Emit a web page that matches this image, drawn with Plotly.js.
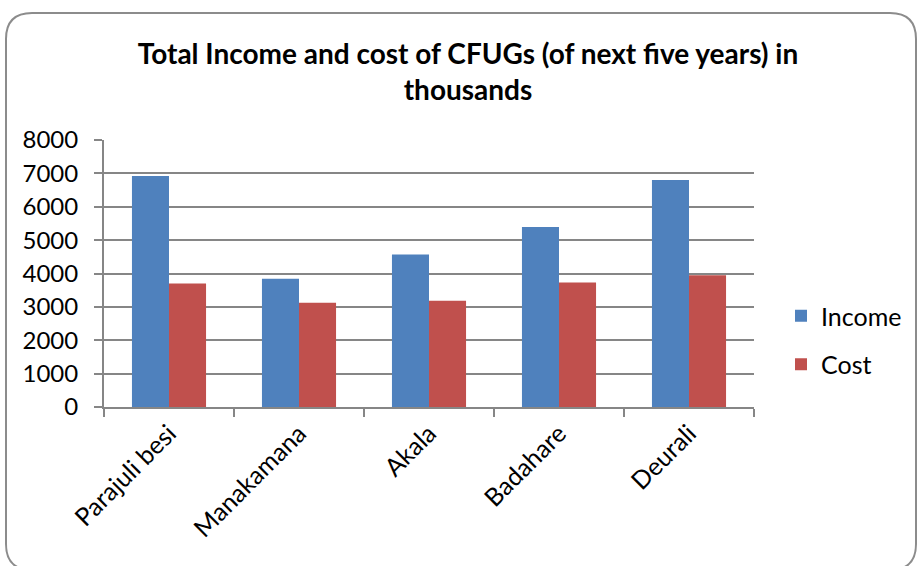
<!DOCTYPE html>
<html>
<head>
<meta charset="utf-8">
<script src="https://cdn.plot.ly/plotly-3.0.1.min.js"></script>
<style>
html,body{margin:0;padding:0;background:#fff;}
#chart{width:918px;height:566px;}
</style>
</head>
<body>
<div id="chart"></div>
<script>
var categories = ["Parajuli besi", "Manakamana", "Akala", "Badahare", "Deurali"];
var income = [6920, 3840, 4570, 5390, 6800];
var cost = [3700, 3120, 3180, 3730, 3950];
var yTicks = [0, 1000, 2000, 3000, 4000, 5000, 6000, 7000, 8000];

var W = 918, H = 566;
var mL = 104, mR = 164, mT = 140, mB = 159;
var pw = W - mL - mR, ph = H - mT - mB;
function px(x){ return (x - mL) / pw; }
function py(y){ return (H - mB - y) / ph; }

// rounded border path in paper coords
var x0 = 6, y0 = 13, x1 = 916, y1 = 570, r = 26;
var border = "M " + px(x0 + r) + "," + py(y0) +
  " L " + px(x1 - r) + "," + py(y0) +
  " Q " + px(x1) + "," + py(y0) + " " + px(x1) + "," + py(y0 + r) +
  " L " + px(x1) + "," + py(y1 - r) +
  " Q " + px(x1) + "," + py(y1) + " " + px(x1 - r) + "," + py(y1) +
  " L " + px(x0 + r) + "," + py(y1) +
  " Q " + px(x0) + "," + py(y1) + " " + px(x0) + "," + py(y1 - r) +
  " L " + px(x0) + "," + py(y0 + r) +
  " Q " + px(x0) + "," + py(y0) + " " + px(x0 + r) + "," + py(y0) + " Z";

var font = "Lato, 'Open Sans', sans-serif";

var data = [
  {type: "bar", name: "Income", x: categories, y: income, legendgroup: "a",
   marker: {color: "#4F81BD"}},
  {type: "bar", name: "Cost", x: categories, y: cost, legendgroup: "b",
   marker: {color: "#C0504D"}}
];

var layout = {
  width: W, height: H,
  margin: {l: mL, r: mR, t: mT, b: mB, pad: 0, autoexpand: false},
  paper_bgcolor: "rgba(0,0,0,0)",
  plot_bgcolor: "rgba(0,0,0,0)",
  font: {family: font, color: "#000"},
  title: {
    text: "<b>Total Income and cost of CFUGs (of next five years) in<br>thousands</b>",
    font: {family: font, size: 28, color: "#000"},
    x: 468 / W, xref: "container", xanchor: "center",
    y: 1 - 64 / H, yref: "container", yanchor: "top"
  },
  barmode: "group",
  bargap: 0.43,
  bargroupgap: 0,
  xaxis: {
    type: "category",
    automargin: false,
    tickangle: -45,
    tickfont: {family: font, size: 25, color: "#000"},
    showline: true, linecolor: "#868686", linewidth: 2,
    ticks: "outside", tickson: "boundaries", ticklen: 8, tickwidth: 2, tickcolor: "#868686",
    showgrid: false
  },
  yaxis: {
    range: [0, 8000],
    automargin: false,
    tickvals: yTicks,
    tickfont: {family: font, size: 24, color: "#000"},
    ticklabelstandoff: 11,
    showline: true, linecolor: "#868686", linewidth: 2,
    ticks: "outside", ticklen: 8, tickwidth: 2, tickcolor: "#868686",
    showgrid: true, gridcolor: "#868686", gridwidth: 2,
    zeroline: false
  },
  legend: {
    x: px(781), xanchor: "left", y: py(293), yanchor: "top",
    font: {family: font, size: 25, color: "#000"},
    traceorder: "grouped", tracegroupgap: 13,
    itemwidth: 30
  },
  shapes: [{
    type: "path", xref: "paper", yref: "paper", path: border,
    line: {color: "#8c8c8c", width: 2}, layer: "below"
  }]
};

Plotly.newPlot("chart", data, layout, {displayModeBar: false, staticPlot: true});
</script>
</body>
</html>
